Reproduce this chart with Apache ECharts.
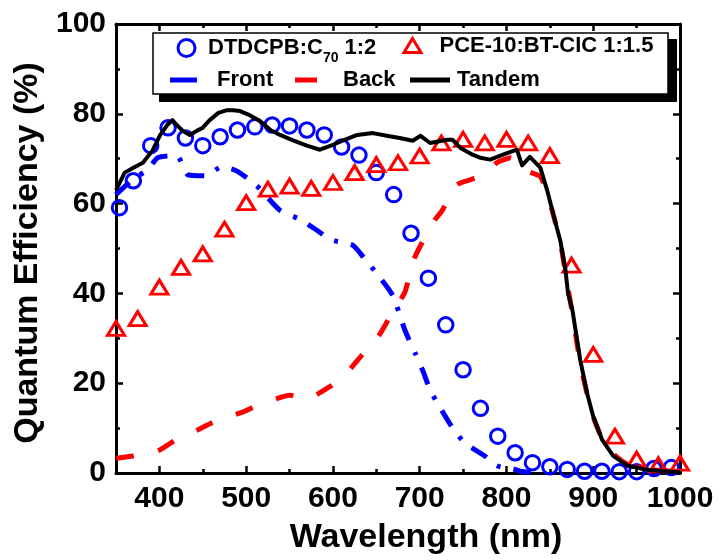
<!DOCTYPE html>
<html>
<head>
<meta charset="utf-8">
<script src="https://cdn.jsdelivr.net/npm/echarts@6/dist/echarts.min.js"></script>
<style>html,body{margin:0;padding:0;background:#fff;}#c{width:720px;height:560px;}</style>
</head>
<body>
<div id="c"></div>
<script>
// ---- data ----
const circleX = [354,370,390,410,430,450,470,490,510,530,550,570,590,610,630,650,670,690,710,730,750,770,790,810,830,850,870,890,910,930,950,970,990];
const circleY = [59.1,65.1,72.9,76.9,74.6,72.9,74.9,76.4,77.1,77.5,77.3,76.4,75.3,72.6,70.8,66.9,62.0,53.4,43.4,33.0,23.0,14.4,8.2,4.5,2.3,1.4,0.8,0.4,0.4,0.3,0.3,1.0,1.2];

const triX = [350,375,400,425,450,475,500,525,550,575,600,625,650,675,700,725,750,775,800,825,850,875,900,925,950,975,1000];
const triY = [32.2,34.4,41.4,45.8,48.8,54.3,60.2,63.2,63.9,63.4,64.7,66.9,68.7,69.1,70.6,73.5,74.3,73.5,74.3,73.5,70.7,46.3,26.4,8.2,3.1,1.8,2.2];

const frontX = [350,370,387,398,420,433,453,472,489,512,539,562,582,597,623,637,651,669,683,695,704,712,725,739,752,775,789,808,816,840];
const frontY = [62,65.5,67.6,70.2,70.7,66.4,66.2,68.2,67.3,64.0,58.5,56.5,54.0,52.0,50.7,47.6,44.3,39.5,31.8,26.6,22.6,18.5,14.1,9.7,6.7,3.8,1.6,0.9,0.4,0];

const backX = [350,370,398,420,445,464,495,516,551,568,597,614,634,652,669,683,692,703,718,726,743,772,789,805,815,827,839,847,854,862,868,876,885,893,900,910,923,940,962,1000];
const backY = [3.3,3.8,4.9,7.5,9.7,11.5,13.5,15.3,17.3,16.4,19.3,21.9,26.4,30.3,35.9,40.3,47.0,51.4,56.5,58.5,64.2,66.2,69.1,70.2,68.0,67.0,66.0,62.5,57.5,51.5,44.5,35.5,24.5,17.5,12.5,7.8,4.3,1.9,0.8,0.3];

const tandemX = [350,360,370,381,392,401,409,415,420,427,435,443,450,458,468,478,485,493,504,516,528,539,554,570,585,600,612,628,646,662,677,692,701,712,732,738,747,761,770,781,796,812,818,827,839,847,854,862,868,871,876,885,893,900,910,923,940,962,992,1000];
const tandemY = [63.0,66.9,68.0,69.1,71.8,75.3,77.5,78.6,77.5,76.2,75.3,76.2,76.9,78.6,80.2,80.8,80.8,80.6,79.7,78.4,76.4,75.3,74.1,72.9,72.0,73.1,74.1,75.3,75.7,75.1,74.6,74.0,75.1,73.5,74.2,74.2,72.4,70.9,70.2,69.8,70.9,72.0,68.5,70.4,68.0,62.9,57.6,51.8,45.2,39.9,36.3,25.2,17.7,12.6,7.5,3.8,1.6,0.7,0.2,0.2];

const xMajorTicks = [400,500,600,700,800,900,1000];
const xMinorTicks = [450,550,650,750,850,950];

const names = ['DTDCPB:C70 1:2','PCE-10:BT-CIC 1:1.5','Front','Back','Tandem'];

// ---- chart ----
const zip = (xs, ys) => xs.map((x, i) => [x, ys[i]]);
const FONT = '"Liberation Sans", Arial, sans-serif';
const BLUE = '#0000FF', RED = '#FF0000', BLACK = '#000000';

const baseX = {type:'value', min:350, max:1000, splitLine:{show:false}, axisLine:{onZero:false}};
const baseY = {type:'value', min:0, max:100, interval:20, splitLine:{show:false}, axisLine:{onZero:false}};
const plain = (v) => String(v);

function majorX(pos, labels) {
  return Object.assign({}, baseX, {
    position: pos,
    axisLine:{show:true, onZero:false, lineStyle:{color:BLACK, width:3}},
    axisTick:{show:true, inside:true, length:7, lineStyle:{color:BLACK, width:2.5}, customValues:xMajorTicks},
    axisLabel:{show:labels, customValues:xMajorTicks, formatter:plain, color:BLACK, fontSize:30, fontWeight:'bold', fontFamily:FONT, margin:11},
    minorTick:{show:false}
  });
}
function minorX(pos) {
  return Object.assign({}, baseX, {
    position: pos,
    axisLine:{show:false, onZero:false},
    axisTick:{show:true, inside:true, length:4, lineStyle:{color:BLACK, width:2.5}, customValues:xMinorTicks},
    axisLabel:{show:false}
  });
}
function yAx(pos, labels) {
  return Object.assign({}, baseY, {
    position: pos,
    axisLine:{show:true, onZero:false, lineStyle:{color:BLACK, width:3}},
    axisTick:{show:true, inside:true, length:7, lineStyle:{color:BLACK, width:2.5}},
    minorTick:{show:true, splitNumber:2, length:4, lineStyle:{color:BLACK, width:2.5}},
    axisLabel:{show:labels, formatter:plain, color:BLACK, fontSize:30, fontWeight:'bold', fontFamily:FONT, margin:10}
  });
}

const xBottom = majorX('bottom', true);
xBottom.name = 'Wavelength (nm)';
xBottom.nameLocation = 'middle';
xBottom.nameGap = 48;
xBottom.nameTextStyle = {color:BLACK, fontSize:34, fontWeight:'bold', fontFamily:FONT, padding:[0,0,0,56]};

const yLeft = yAx('left', true);
yLeft.name = 'Quantum Efficiency (%)';
yLeft.nameLocation = 'middle';
yLeft.nameGap = 69;
yLeft.nameTextStyle = {color:BLACK, fontSize:34, fontWeight:'bold', fontFamily:FONT, padding:[0,9,0,0]};

const legendText = (pad) => ({
  color: BLACK, fontSize: 22, fontWeight: 'bold', fontFamily: FONT,
  rich: {
    t: {color:BLACK, fontSize:22, fontWeight:'bold', fontFamily:FONT, lineHeight:26, padding:[0,0,0,pad]}
  }
});

const option = {
  backgroundColor: '#ffffff',
  animation: false,
  grid: {left:116, right:40, top:24, bottom:83, containLabel:false},
  xAxis: [xBottom, minorX('bottom'), majorX('top', false), minorX('top')],
  yAxis: [yLeft, yAx('right', false)],
  graphic: [
    {type:'rect', z:3, shape:{x:159, y:39, width:518, height:63}, style:{fill:BLACK}},
    {type:'rect', z:3, shape:{x:153, y:33, width:515, height:61}, style:{fill:'#ffffff', stroke:BLACK, lineWidth:1.5}}
  ],
  legend: [
    {
      z:10, selectedMode:false, padding:0, left:176.5, top:31,
      itemWidth:17, itemHeight:17,
      data:[{name:names[0], icon:'circle', itemStyle:{color:'rgba(0,0,0,0)', borderColor:BLUE, borderWidth:3}}],
      formatter: () => '{p|DTDCPB:C}{s|70}{a| 1:2}',
      textStyle: {
        color:BLACK, fontSize:22, fontWeight:'bold', fontFamily:FONT,
        rich:{
          p:{color:BLACK, fontSize:22, fontWeight:'bold', fontFamily:FONT, lineHeight:26, verticalAlign:'middle', padding:[0,0,0,8]},
          a:{color:BLACK, fontSize:22, fontWeight:'bold', fontFamily:FONT, lineHeight:26, verticalAlign:'middle'},
          s:{color:BLACK, fontSize:14, fontWeight:'bold', fontFamily:FONT, lineHeight:14, padding:[20,0,0,0], verticalAlign:'middle'}
        }
      }
    },
    {
      z:10, selectedMode:false, padding:0, left:402.5, top:34.5,
      itemWidth:17, itemHeight:14,
      data:[{name:names[1], icon:'triangle', itemStyle:{color:'rgba(0,0,0,0)', borderColor:RED, borderWidth:3}}],
      formatter: (n) => '{t|' + n + '}',
      textStyle: legendText(13.5)
    },
    {
      z:10, selectedMode:false, padding:0, left:170, top:69,
      itemWidth:27, itemHeight:5,
      data:[{name:names[2], icon:'rect', itemStyle:{color:BLUE, borderWidth:0}}],
      formatter: (n) => '{t|' + n + '}',
      textStyle: legendText(15)
    },
    {
      z:10, selectedMode:false, padding:0, left:295, top:69,
      itemWidth:22, itemHeight:5,
      data:[{name:names[3], icon:'rect', itemStyle:{color:RED, borderWidth:0}}],
      formatter: (n) => '{t|' + n + '}',
      textStyle: legendText(21)
    },
    {
      z:10, selectedMode:false, padding:0, left:410, top:69,
      itemWidth:40, itemHeight:5,
      data:[{name:names[4], icon:'rect', itemStyle:{color:BLACK, borderWidth:0}}],
      formatter: (n) => '{t|' + n + '}',
      textStyle: legendText(2)
    }
  ],
  series: [
    {
      name: names[0], type:'scatter', xAxisIndex:0, yAxisIndex:0, z:2,
      symbol:'circle', symbolSize:14.5,
      itemStyle:{color:'rgba(0,0,0,0)', borderColor:BLUE, borderWidth:3, opacity:1},
      data: zip(circleX, circleY)
    },
    {
      name: names[1], type:'scatter', xAxisIndex:0, yAxisIndex:0, z:2,
      symbol:'triangle', symbolSize:[17,14],
      itemStyle:{color:'rgba(0,0,0,0)', borderColor:RED, borderWidth:3, opacity:1},
      data: zip(triX, triY)
    },
    {
      name: names[2], type:'line', xAxisIndex:0, yAxisIndex:0, z:3,
      showSymbol:false, symbol:'none', smooth:0.2,
      itemStyle:{color:BLUE},
      lineStyle:{color:BLUE, width:5, type:[18,13,4,13], cap:'butt'},
      data: zip(frontX, frontY)
    },
    {
      name: names[3], type:'line', xAxisIndex:0, yAxisIndex:0, z:3,
      showSymbol:false, symbol:'none', smooth:0.2,
      itemStyle:{color:RED},
      lineStyle:{color:RED, width:5, type:[18,25], cap:'butt'},
      data: zip(backX, backY)
    },
    {
      name: names[4], type:'line', xAxisIndex:0, yAxisIndex:0, z:4,
      showSymbol:false, symbol:'none',
      itemStyle:{color:BLACK},
      lineStyle:{color:BLACK, width:4, join:'round'},
      data: zip(tandemX, tandemY)
    }
  ]
};

const chart = echarts.init(document.getElementById('c'), null, {renderer:'canvas'});
chart.setOption(option);
</script>
</body>
</html>
